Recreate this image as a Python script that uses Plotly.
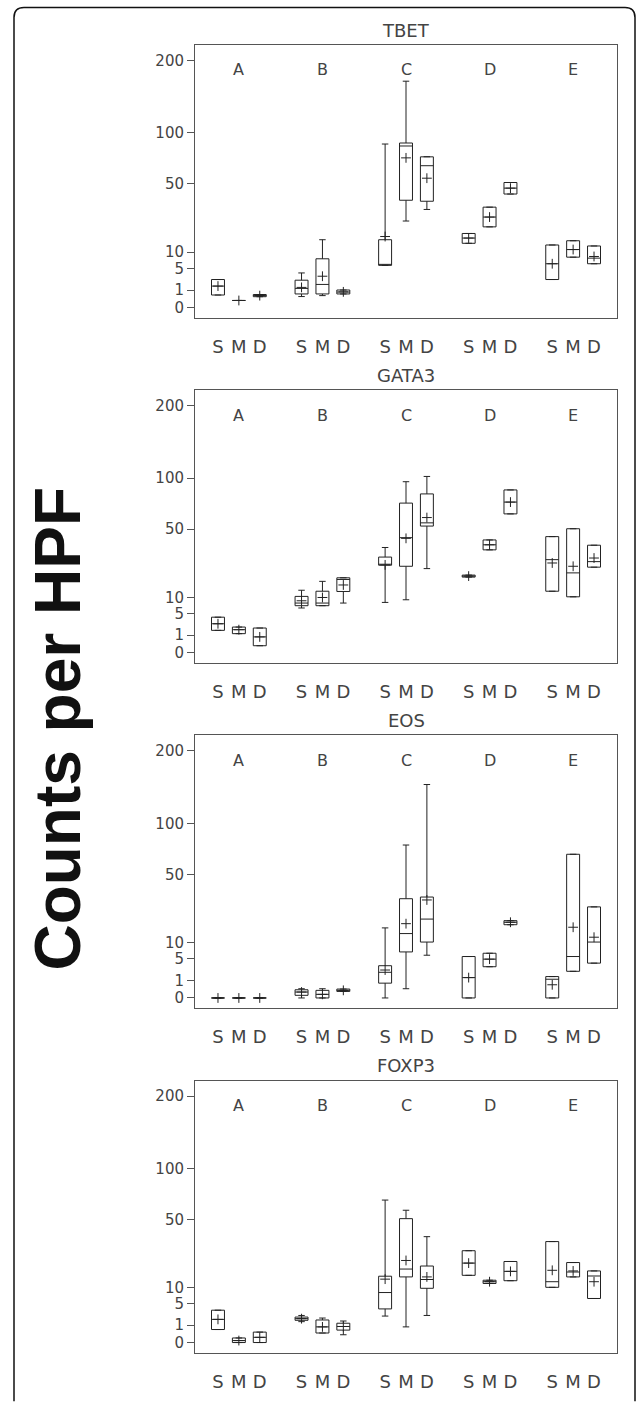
import numpy as np
import plotly.graph_objects as go
from plotly.subplots import make_subplots

# ---------------- data (counts per HPF) ----------------
groups = ["A", "B", "C", "D", "E"]
subgroups = ["S", "M", "D"]
panels = ["TBET", "GATA3", "EOS", "FOXP3"]
tick_values = [0, 1, 5, 10, 50, 100, 200]
tick_labels = ["0", "1", "5", "10", "50", "100", "200"]

# order: A-S, A-M, A-D, B-S, B-M, B-D, ... E-D
tbet_lo   = [0.51, 0.16, 0.38, 0.39, 0.46, 0.60, 5.81, 24.5, 31.5, 13.5, 21.3, 42.2, 2.56, 8.3, 6.27]
tbet_q1   = [0.51, 0.16, 0.38, 0.60, 0.60, 0.60, 5.81, 37.7, 37.0, 13.5, 21.3, 42.2, 2.56, 8.3, 6.27]
tbet_med  = [1.50, 0.16, 0.46, 1.19, 1.74, 0.78, 5.90, 85.5, 65.9, 15.8, 26.8, 46.7, 6.27, 11.0, 7.98]
tbet_q3   = [2.56, 0.16, 0.55, 2.44, 7.77, 1.00, 15.05, 88.7, 74.4, 17.95, 33.0, 51.2, 12.8, 14.6, 12.4]
tbet_hi   = [2.56, 0.16, 0.55, 3.91, 15.05, 1.00, 87.6, 167.9, 74.5, 17.95, 33.0, 51.2, 12.8, 14.6, 12.4]
tbet_mean = [1.50, 0.16, 0.46, 1.32, 3.20, 0.80, 16.5, 73.4, 54.8, 15.8, 26.8, 46.7, 6.27, 11.0, 8.52]

gata3_lo   = [1.64, 1.19, 0.16, 6.56, 7.25, 8.09, 8.3, 9.19, 23.2, 18.76, 34.7, 63.2, 12.4, 10.25, 24.0]
gata3_q1   = [1.64, 1.19, 0.16, 7.25, 7.25, 12.3, 25.1, 24.5, 52.6, 18.76, 34.7, 63.2, 12.4, 10.25, 24.0]
gata3_med  = [2.75, 1.74, 0.82, 8.09, 8.09, 17.6, 25.3, 43.4, 55.3, 19.25, 38.2, 74.4, 28.4, 20.9, 27.2]
gata3_q3   = [4.14, 2.16, 2.00, 10.4, 12.4, 18.4, 30.0, 73.4, 82.7, 19.75, 41.7, 86.9, 44.2, 50.4, 37.9]
gata3_hi   = [4.14, 2.16, 2.00, 12.8, 16.7, 18.4, 36.3, 95.9, 101.9, 19.75, 41.7, 86.9, 44.2, 50.4, 37.9]
gata3_mean = [2.75, 1.74, 0.82, 8.85, 10.0, 15.05, 25.3, 42.9, 59.9, 19.25, 38.2, 74.4, 26.4, 24.5, 29.4]

eos_lo   = [0, 0, 0, 0.0, 0.0, 0.14, 0.0, 0.28, 5.99, 0.0, 3.2, 17.6, 0.0, 2.33, 3.98]
eos_q1   = [0, 0, 0, 0.023, 0.0, 0.14, 0.72, 6.95, 10.25, 0.0, 3.2, 17.6, 0.0, 2.33, 3.98]
eos_med  = [0, 0, 0, 0.115, 0.043, 0.19, 2.16, 13.6, 20.4, 1.36, 4.94, 18.8, 1.15, 5.63, 10.25]
eos_q3   = [0, 0, 0, 0.22, 0.19, 0.26, 3.41, 32.3, 33.4, 5.63, 6.56, 19.6, 1.5, 67.7, 27.2]
eos_hi   = [0, 0, 0, 0.28, 0.28, 0.26, 16.1, 76.7, 149.4, 5.63, 6.56, 19.6, 1.5, 67.7, 27.2]
eos_mean = [0, 0, 0, 0.115, 0.043, 0.19, 2.56, 18.1, 31.5, 1.36, 4.94, 18.8, 0.57, 16.4, 12.1]

foxp3_lo   = [0.56, 0.0, 0.0, 1.44, 0.30, 0.20, 2.31, 0.81, 2.42, 14.9, 11.5, 12.6, 10.05, 14.2, 6.4]
foxp3_q1   = [0.56, 0.0, 0.0, 1.63, 0.30, 0.51, 3.73, 14.2, 9.7, 14.9, 11.5, 12.6, 10.05, 14.2, 6.4]
foxp3_med  = [1.77, 0.013, 0.09, 1.88, 0.81, 0.85, 8.24, 17.8, 13.1, 20.8, 12.2, 16.7, 12.2, 16.4, 14.6]
foxp3_q3   = [3.45, 0.069, 0.36, 2.14, 1.68, 1.23, 14.5, 50.6, 19.3, 27.8, 12.8, 21.65, 33.6, 21.1, 16.9]
foxp3_hi   = [3.45, 0.069, 0.36, 2.42, 1.98, 1.53, 66.9, 57.7, 36.95, 27.8, 12.8, 21.65, 33.6, 21.1, 16.9]
foxp3_mean = [1.77, 0.013, 0.09, 1.88, 0.81, 0.85, 13.25, 22.2, 14.2, 20.8, 12.2, 16.7, 17.2, 16.9, 12.2]

stats = {
    "TBET": (tbet_lo, tbet_q1, tbet_med, tbet_q3, tbet_hi, tbet_mean),
    "GATA3": (gata3_lo, gata3_q1, gata3_med, gata3_q3, gata3_hi, gata3_mean),
    "EOS": (eos_lo, eos_q1, eos_med, eos_q3, eos_hi, eos_mean),
    "FOXP3": (foxp3_lo, foxp3_q1, foxp3_med, foxp3_q3, foxp3_hi, foxp3_mean),
}

# ---------------- layout geometry ----------------
W, H = 636, 1404
ML, MR, MT, MB = 195, 19, 45, 33
PW = W - ML - MR
PH = H - MT - MB
panel_h = 276.7
panel_step = 350.0

def X(px):
    return (px - ML) / PW

def Y(py):
    return 1 - (py - MT) / PH

def clamp(v):
    return min(1.0, max(0.0, v))

# box positions: 4 units per group, subgroups at -1, 0, +1
pos = [4 * gi + (si - 1) for gi in range(len(groups)) for si in range(len(subgroups))]
pos_labels = [s for g in groups for s in subgroups]

fig = make_subplots(rows=4, cols=1)

LINE = "#222222"
FRAME = "#555555"
TXT = "#444444"
FONT = "DejaVu Sans"

for i, name in enumerate(panels):
    lo, q1, med, q3, hi, mean = [np.sqrt(np.array(a, dtype=float)) for a in stats[name]]
    fig.add_trace(go.Box(
        x=pos, q1=q1, median=med, q3=q3, lowerfence=lo, upperfence=hi,
        width=0.62, whiskerwidth=0.5, boxpoints=False,
        line=dict(color=LINE, width=1), fillcolor="rgba(0,0,0,0)",
        showlegend=False, hoverinfo="skip",
    ), row=i + 1, col=1)
    fig.add_trace(go.Scatter(
        x=pos, y=mean, mode="markers",
        marker=dict(symbol="cross-thin", size=7, color=LINE, line=dict(width=1, color=LINE)),
        showlegend=False, hoverinfo="skip",
    ), row=i + 1, col=1)

    top = MT + panel_step * i
    bot = top + panel_h
    ax = "" if i == 0 else str(i + 1)
    fig.layout["yaxis" + ax].update(
        domain=[clamp(Y(bot)), clamp(Y(top))], range=[-0.6, 15.03],
        tickvals=np.sqrt(tick_values), ticktext=tick_labels,
        ticks="outside", ticklen=7, tickcolor=FRAME, tickwidth=1,
        showline=True, mirror=True, linecolor=FRAME, linewidth=1,
        showgrid=False, zeroline=False,
        tickfont=dict(family=FONT, size=15, color=TXT),
    )
    fig.layout["xaxis" + ax].update(
        range=[-2.1, 18.1], tickvals=pos, ticktext=pos_labels,
        ticks="", showline=True, mirror=True, linecolor=FRAME, linewidth=1,
        showgrid=False, zeroline=False, ticklabelstandoff=12,
        tickfont=dict(family=FONT, size=18, color=TXT),
    )
    # panel title
    fig.add_annotation(text=name, xref="paper", yref="paper", x=0.5, y=clamp(Y(top)),
                       yshift=15, xanchor="center", yanchor="middle", showarrow=False,
                       font=dict(family=FONT, size=18, color=TXT))
    # group labels
    for gi, g in enumerate(groups):
        fig.add_annotation(text=g, xref="x" + ax, yref="y" + ax, x=4 * gi, y=13.6,
                           xanchor="center", yanchor="middle", showarrow=False,
                           font=dict(family=FONT, size=16, color=TXT))

# y axis title
fig.add_annotation(text="<b>Counts per HPF</b>", xref="paper", yref="paper",
                   x=X(58), y=Y(738), textangle=-90, xanchor="center", yanchor="middle",
                   showarrow=False, font=dict(family="Liberation Sans", size=64, color="#111111"))

# outer rounded border (open at the bottom)
r = 10
path = (f"M {X(14)},{Y(1420)} L {X(14)},{Y(7 + r)} Q {X(14)},{Y(7)} {X(14 + r)},{Y(7)} "
        f"L {X(635 - r)},{Y(7)} Q {X(635)},{Y(7)} {X(635)},{Y(7 + r)} L {X(635)},{Y(1420)}")
fig.add_shape(type="path", path=path, xref="paper", yref="paper",
              line=dict(color="#111111", width=1.5))

fig.update_layout(
    width=W, height=H, margin=dict(l=ML, r=MR, t=MT, b=MB),
    paper_bgcolor="white", plot_bgcolor="white",
)

fig.write_html("out.html")
